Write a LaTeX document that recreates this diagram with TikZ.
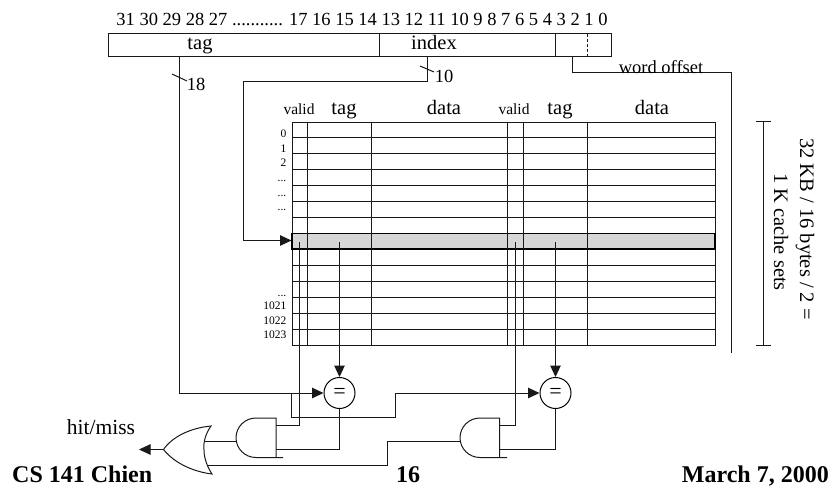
\documentclass[tikz,border=0pt]{standalone}
\usepackage{fontspec}
\setmainfont{Liberation Serif}
\usetikzlibrary{arrows.meta,calc}
\tikzset{x=1pt,y=-1pt,
 wire/.style={line width=1pt,black!90},
 arrowed/.style={wire,-{Triangle[length=11.5pt,width=10.5pt]}},
 grid/.style={line width=1pt,black!90},
 cmp/.style={circle,draw,line width=1pt,minimum size=31pt,inner sep=0pt,font=\fontsize{22}{22}\selectfont},
 lab/.style={inner sep=0pt,anchor=base,font=\fontsize{18.5}{18.5}\selectfont},
 big/.style={inner sep=0pt,anchor=base,font=\fontsize{20.5}{20.5}\selectfont},
 small/.style={inner sep=0pt,anchor=base,font=\fontsize{15.5}{15.5}\selectfont},
 tiny/.style={inner sep=0pt,anchor=base east,font=\fontsize{11.5}{12}\selectfont},
 bold/.style={inner sep=0pt,anchor=base,font=\fontsize{24}{24}\selectfont\bfseries}}
\newcommand{\dotsmark}{...}
\begin{document}
\begin{tikzpicture}
\useasboundingbox (0,0) rectangle (835,487);
% address
\node[lab] (bits) at (362,26) {31 30 29 28 27 ........... 17 16 15 14 13 12 11 10 9 8 7 6 5 4 3 2 1 0};
\draw[grid] (108,34) rectangle (611,57);
\draw[grid] (379,34) -- (379,57) (555,34) -- (555,57);
\draw[grid,dash pattern=on 3pt off 2pt] (587,34) -- (587,57);
\node[big] (ttag) at (200,50) {tag};
\node[big] (tindex) at (434,50) {index};
% table
\fill[black!16] (292,233.5) rectangle (715,249);
\draw[grid] (292,122) rectangle (715,345);
\foreach \y in {137,153,169,185,201,217,233.5,249,265,281,297,313,329} \draw[grid] (292,\y) -- (715,\y);
\draw[line width=1.4pt] (292,233.5) rectangle (715,249);
\foreach \x in {307,371,507,523,587} \draw[grid] (\x,122) -- (\x,345);
\node[small] (v1) at (299,114) {valid};
\node[big] (t1) at (344,114) {tag};
\node[big] (d1) at (444,114) {data};
\node[small] (v2) at (514,114) {valid};
\node[big] (t2) at (560,114) {tag};
\node[big] (d2) at (652,114) {data};
\foreach \y/\t in {137/0,152/1,166/2,181/\dotsmark,196/\dotsmark,210/\dotsmark,296/\dotsmark,309/1021,324/1022,338/1023}
  \node[tiny] at (286.5,\y) {\t};
% comparators & gates
\node[cmp] (c1) at (339.5,393) {=};
\node[cmp] (c2) at (555.5,393) {=};
\coordinate (tagout) at (179,57);
\coordinate (idxout) at (427,57);
\coordinate (wo) at (572,57);
\draw[arrowed] (tagout) |- (c1.west);
\draw[arrowed] (idxout) -- (427,81) -- (243,81) -- (243,240.5) -- (291.5,240.5);
\draw[wire] (wo) |- (731.5,72.5) -- (731.5,353);
\draw[wire] (172,74) -- (187,81);
\draw[wire] (420,66) -- (434,72);
\node[lab] (n18) at (196,90) {18};
\node[lab] (n10) at (444,82) {10};
\node[lab] (wolab) at (661,74) {word offset};
\coordinate (s1) at (339.5,242);
\coordinate (s2) at (555.5,242);
\draw[arrowed] (s1) -- (c1.north);
\draw[arrowed] (s2) -- (c2.north);
% AND gates
\draw[wire] (283,457.5) -- (276,457.5) -- (276,418) -- (256,418) arc[start angle=90,end angle=270,x radius=20,y radius=-19.75] -- (276,457.5);
\draw[wire] (507,457.5) -- (499.5,457.5) -- (499.5,418) -- (480,418) arc[start angle=90,end angle=270,x radius=20,y radius=-19.75] -- (499.5,457.5);
% OR gate
\draw[wire] (211,426) .. controls (206,433) and (203,442) .. (204,450) .. controls (204,459) and (208,468) .. (212,474)
 .. controls (195,472) and (175,464) .. (163.5,449.5) .. controls (172,437) and (190,428) .. (211,426) -- cycle;
\coordinate (orout) at (163.5,449.5);
\coordinate (hit) at (139,449.5);
\draw[arrowed] (orout) -- (hit);
\node[big,font=\fontsize{21.5}{21.5}\selectfont] (hm) at (101,434) {hit/miss};
% connections
\draw[wire] (299,242) -- (299,425) -- (276,425);
\draw[wire] (515,242) -- (515,425) -- (499.5,425);
\draw[wire] (c1.south) -- (339.5,449) -- (276,449);
\draw[wire] (c2.south) -- (555.5,449) -- (499.5,449);
\draw[arrowed] (291.5,393) -- (291.5,417) -- (395.5,417) -- (395.5,393) -- (c2.west);
\draw[wire] (236,441.5) -- (204,441.5);
\draw[wire] (460,441.5) -- (387,441.5) -- (387,465.5) -- (207,465.5);
% right size bracket
\draw[wire] (763,121) -- (763,345) (756,121) -- (771,121) (756,345) -- (771,345);
\node[big,rotate=-90] (sz1) at (800,229) {32 KB / 16 bytes / 2 =};
\node[big,rotate=-90] (sz2) at (774,232) {1 K cache sets};
% footer
\node[bold,anchor=base west] (f1) at (12,482) {CS 141 Chien};
\node[bold] (f2) at (408,482) {16};
\node[bold,anchor=base east] (f3) at (829,482) {March 7, 2000};
\end{tikzpicture}
\end{document}
